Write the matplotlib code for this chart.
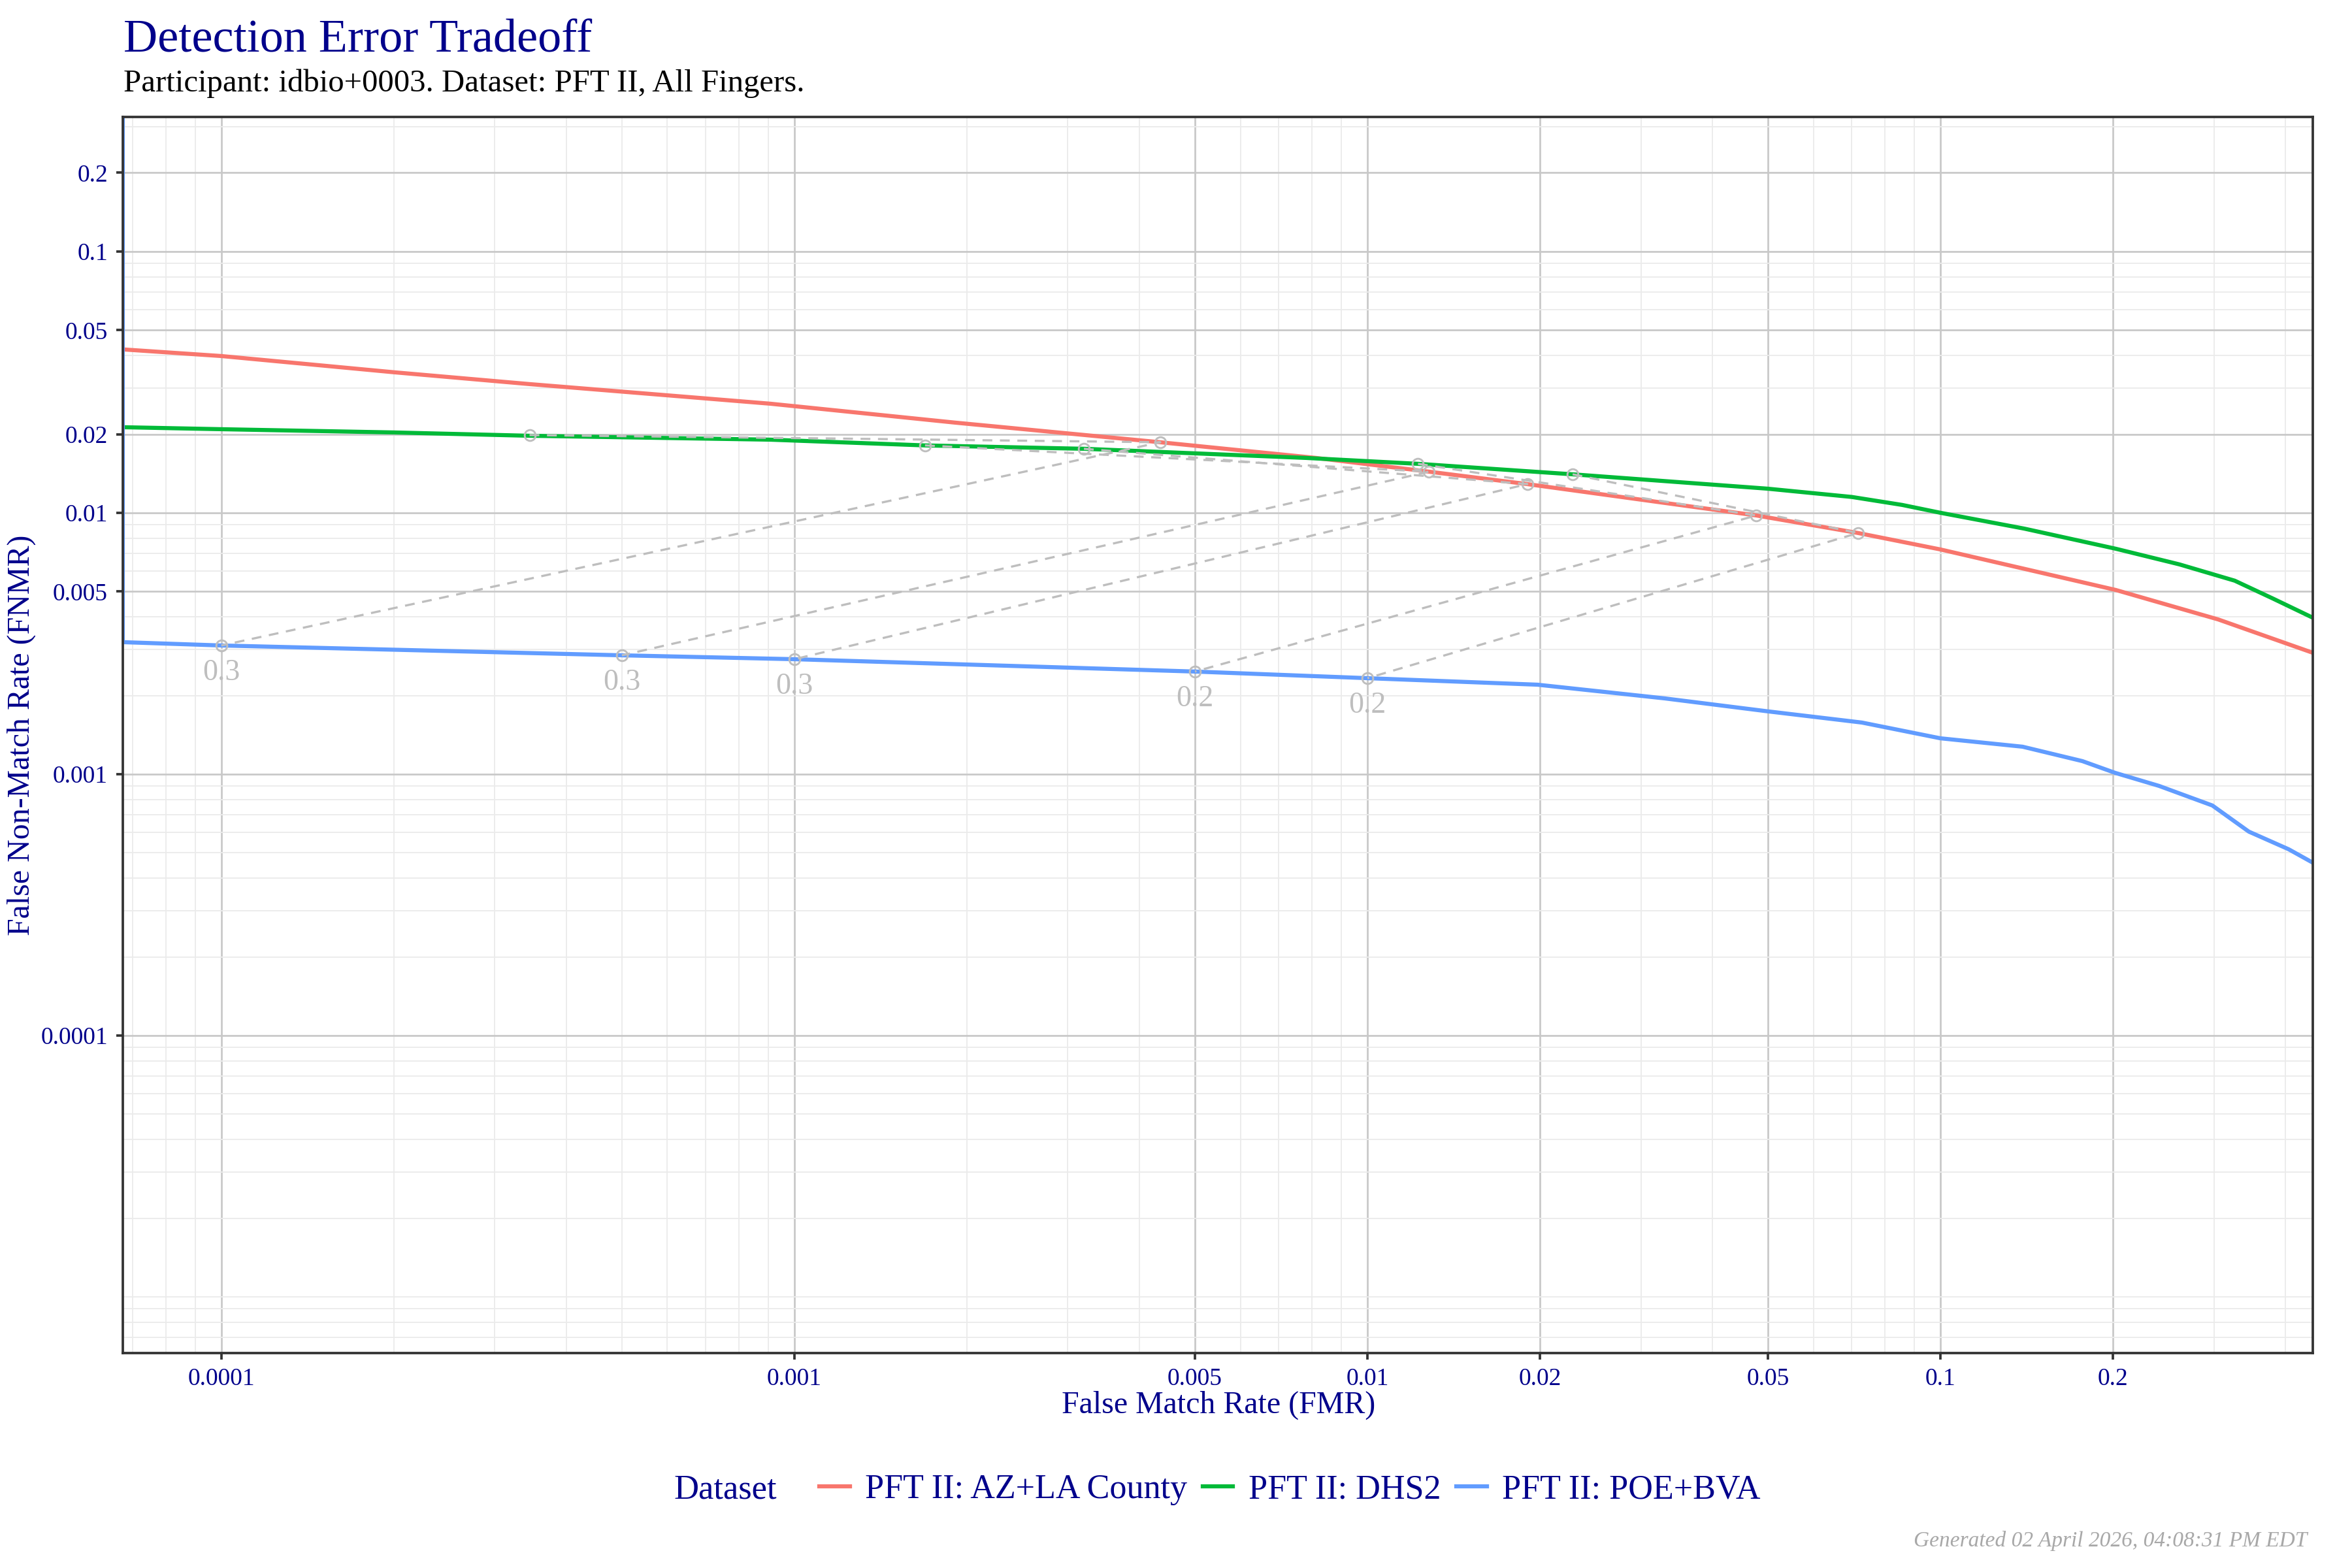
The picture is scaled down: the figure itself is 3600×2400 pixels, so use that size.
import matplotlib
matplotlib.use('Agg')

from matplotlib import pyplot as plt
from matplotlib.ticker import FixedLocator, LogLocator, NullFormatter

plt.rcParams['font.family'] = ['Liberation Serif', 'DejaVu Serif']

NAVY = '#00008B'
GREY = '#BEBEBE'

datasets = ['PFT II: AZ+LA County', 'PFT II: DHS2', 'PFT II: POE+BVA']
colors = ['#F8766D', '#00BA38', '#619CFF']

# DET curves (FMR, FNMR)
az_fmr = [6.73e-5, 1.0e-4, 2.0e-4, 3.44e-4, 9.08e-4, 1.91e-3, 4.35e-3, 8.13e-3,
          0.0128, 0.0190, 0.0477, 0.0718, 0.100, 0.202, 0.305, 0.445]
az_fnmr = [0.0422, 0.0398, 0.0345, 0.0311, 0.02615, 0.02213, 0.01862, 0.01622,
           0.01437, 0.01288, 0.00977, 0.00837, 0.00724, 0.00507, 0.00391, 0.00292]

dhs_fmr = [6.73e-5, 1.0e-4, 2.0e-4, 3.44e-4, 9.08e-4, 1.69e-3, 3.20e-3, 7.81e-3,
           0.01225, 0.0228, 0.0499, 0.0700, 0.0857, 0.100, 0.140, 0.202, 0.261,
           0.326, 0.380, 0.445]
dhs_fnmr = [0.02126, 0.02089, 0.02030, 0.01972, 0.01905, 0.01811, 0.01758, 0.01622,
            0.01540, 0.01404, 0.01237, 0.01150, 0.01072, 0.0100, 0.00870, 0.00729,
            0.00635, 0.00550, 0.00470, 0.00398]

poe_fmr = [6.73e-5, 6.73e-5, 1.0e-4, 5.0e-4, 1.0e-3, 5.0e-3, 0.01, 0.0198, 0.033,
           0.0499, 0.0729, 0.0999, 0.139, 0.1768, 0.2016, 0.2405, 0.298, 0.345,
           0.405, 0.445]
poe_fnmr = [1.0, 0.00320, 0.003108, 0.00285, 0.002754, 0.00247, 0.00233, 0.0022,
            0.00195, 0.00174, 0.001576, 0.001372, 0.001274, 0.001122, 0.001012,
            0.000902, 0.000759, 0.000603, 0.000516, 0.00046]

# same-threshold points on each curve
thr_labels = ['0.3', '0.3', '0.3', '0.2', '0.2']
thr_dhs_fmr = [3.45e-4, 1.69e-3, 3.20e-3, 0.01225, 0.0228]
thr_dhs_fnmr = [0.01984, 0.01811, 0.01758, 0.01540, 0.01404]
thr_az_fmr = [4.35e-3, 0.0128, 0.0190, 0.0477, 0.0718]
thr_az_fnmr = [0.01862, 0.01437, 0.01288, 0.00977, 0.00837]
thr_poe_fmr = [1.0e-4, 5.0e-4, 1.0e-3, 5.0e-3, 0.01]
thr_poe_fnmr = [0.003108, 0.00285, 0.002754, 0.00247, 0.00233]

ticks = [0.0001, 0.001, 0.005, 0.01, 0.02, 0.05, 0.1, 0.2]
tick_labels = ['0.0001', '0.001', '0.005', '0.01', '0.02', '0.05', '0.1', '0.2']

fig = plt.figure(figsize=(12, 8), dpi=300)
ax = fig.add_axes([0.0522, 0.1371, 0.9311, 0.7883])

ax.set_xscale('log')
ax.set_yscale('log')
ax.set_xlim(6.73e-5, 0.446)
ax.set_ylim(6.1e-6, 0.327)

curves = [(az_fmr, az_fnmr), (dhs_fmr, dhs_fnmr), (poe_fmr, poe_fnmr)]
handles = []
for (xs, ys), name, col in zip(curves, datasets, colors):
    h, = ax.plot(xs, ys, color=col, lw=1.5, label=name, zorder=2)
    handles.append(h)

for i in range(len(thr_labels)):
    px = [thr_dhs_fmr[i], thr_az_fmr[i], thr_poe_fmr[i]]
    py = [thr_dhs_fnmr[i], thr_az_fnmr[i], thr_poe_fnmr[i]]
    ax.plot(px, py, color=GREY, lw=0.8, linestyle=(0, (4.5, 3.5)), zorder=4)
    ax.plot(px, py, 'o', mfc='none', mec=GREY, ms=4, mew=0.7, zorder=5)
    ax.annotate(thr_labels[i], (thr_poe_fmr[i], thr_poe_fnmr[i]),
                xytext=(0, -5), textcoords='offset points',
                ha='center', va='top', fontsize=11, color=GREY, zorder=5)

for axis in (ax.xaxis, ax.yaxis):
    axis.set_major_locator(FixedLocator(ticks))
    axis.set_minor_locator(LogLocator(base=10, subs=range(1, 10), numticks=40))
    axis.set_minor_formatter(NullFormatter())
ax.set_xticklabels(tick_labels)
ax.set_yticklabels(tick_labels)

ax.grid(which='minor', color='#EBEBEB', lw=0.45)
ax.grid(which='major', color='#C8C8C8', lw=0.65)
ax.set_axisbelow(True)

for s in ax.spines.values():
    s.set_color('#333333')
    s.set_linewidth(0.9)

ax.tick_params(which='major', length=2.5, width=0.9, color='#333333',
               labelcolor=NAVY, labelsize=9, pad=3)
ax.tick_params(which='minor', length=0)

fig.text(0.0525, 0.967, 'Detection Error Tradeoff', fontsize=17.3, color=NAVY,
         ha='left', va='baseline')
fig.text(0.0525, 0.9417, 'Participant: idbio+0003. Dataset: PFT II, All Fingers.',
         fontsize=11.7, color='black', ha='left', va='baseline')

fig.text(0.518, 0.104, 'False Match Rate (FMR)', fontsize=11.5, color=NAVY,
         ha='center', va='center')
fig.text(0.009, 0.531, 'False Non-Match Rate (FNMR)', fontsize=11.5, color=NAVY,
         ha='center', va='center', rotation=90)

fig.text(0.2864, 0.05, 'Dataset', fontsize=12.6, color=NAVY, ha='left', va='center')
leg = fig.legend(handles=handles, labels=datasets, loc='center left',
                 bbox_to_anchor=(0.341, 0.05), ncol=3, frameon=False,
                 fontsize=12.5, borderpad=0, handlelength=0.9,
                 handletextpad=0.45, columnspacing=0.45)
for t in leg.get_texts():
    t.set_color(NAVY)

fig.text(0.981, 0.0137, 'Generated 02 April 2026, 04:08:31 PM EDT', fontsize=8,
         style='italic', color='#A8A8A8', ha='right', va='baseline')

fig.savefig('out.png', dpi=300)
